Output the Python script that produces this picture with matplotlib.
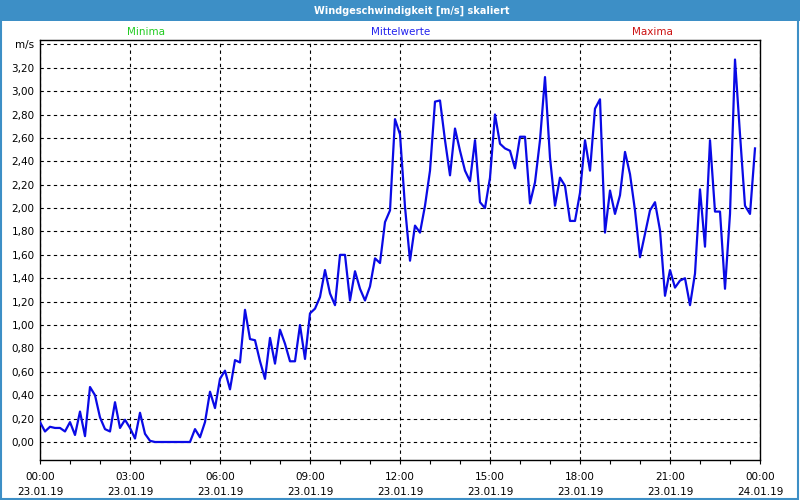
import matplotlib
matplotlib.use("Agg")
import matplotlib.pyplot as plt
import matplotlib.dates as mdates
from matplotlib.patches import Rectangle
from matplotlib.ticker import FuncFormatter
import pandas as pd

# ---- data ----
title = "Windgeschwindigkeit [m/s] skaliert"
legend_labels = ["Minima", "Mittelwerte", "Maxima"]
legend_colors = ["#22cc22", "#2222ee", "#cc1111"]
start_time = "2019-01-23 00:00"
interval = "10min"
wind_mean = [
    0.17, 0.09, 0.13, 0.12, 0.12, 0.09, 0.17, 0.06, 0.26, 0.05,
    0.47, 0.40, 0.21, 0.11, 0.09, 0.34, 0.12, 0.19, 0.12, 0.03,
    0.25, 0.07, 0.01, 0.00, 0.00, 0.00, 0.00, 0.00, 0.00, 0.00,
    0.00, 0.11, 0.04, 0.17, 0.43, 0.29, 0.54, 0.61, 0.45, 0.70,
    0.68, 1.13, 0.88, 0.87, 0.69, 0.54, 0.89, 0.67, 0.96, 0.84,
    0.69, 0.69, 1.00, 0.71, 1.10, 1.14, 1.24, 1.47, 1.27, 1.17,
    1.60, 1.60, 1.21, 1.46, 1.31, 1.21, 1.33, 1.57, 1.53, 1.88,
    1.98, 2.76, 2.63, 2.01, 1.55, 1.85, 1.79, 2.02, 2.32, 2.91,
    2.92, 2.58, 2.28, 2.68, 2.49, 2.32, 2.23, 2.58, 2.05, 2.00,
    2.26, 2.80, 2.55, 2.51, 2.49, 2.34, 2.61, 2.61, 2.04, 2.22,
    2.58, 3.12, 2.43, 2.02, 2.26, 2.19, 1.89, 1.89, 2.13, 2.58,
    2.32, 2.85, 2.93, 1.79, 2.15, 1.95, 2.11, 2.48, 2.29, 1.98,
    1.58, 1.78, 1.98, 2.05, 1.81, 1.25, 1.47, 1.32, 1.38, 1.40,
    1.17, 1.44, 2.16, 1.67, 2.58, 1.97, 1.97, 1.31, 1.95, 3.27,
    2.63, 2.02, 1.95, 2.51,
]
y_ticks = [0.0, 0.2, 0.4, 0.6, 0.8, 1.0, 1.2, 1.4, 1.6, 1.8, 2.0,
           2.2, 2.4, 2.6, 2.8, 3.0, 3.2, 3.4]
y_unit_label = "m/s"

times = pd.date_range(start_time, periods=len(wind_mean), freq=interval)

plt.rcParams['font.family'] = ['DejaVu Sans']
fig = plt.figure(figsize=(8, 5), dpi=100)
fig.patch.set_facecolor("white")

blue = "#3d8fc6"
# title bar
fig.patches.append(Rectangle((0, 1 - 21 / 500), 1, 21 / 500, transform=fig.transFigure,
                             facecolor=blue, edgecolor="none", zorder=0))
# frame
fig.patches.append(Rectangle((0.001, 0.002), 0.997, 0.996, transform=fig.transFigure,
                             facecolor="none", edgecolor=blue, linewidth=1.5, zorder=5))
fig.text(412 / 800, 1 - 10.5 / 500, title, color="white", fontsize=7,
         fontweight="bold", ha="center", va="center")

for lab, col, xp in zip(legend_labels, legend_colors, [146, 401, 652]):
    fig.text(xp / 800, 1 - 32 / 500, lab, color=col, fontsize=7.5,
             ha="center", va="center")

ax = fig.add_axes([40 / 800, 40 / 500, 720 / 800, 420 / 500])
ax.plot(times, wind_mean, color="#0a0ae6", linewidth=1.6, zorder=3)

ax.set_xlim(pd.Timestamp("2019-01-23 00:00"), pd.Timestamp("2019-01-24 00:00"))
ax.set_ylim(-0.154, 3.437)

ax.set_yticks(y_ticks)
def yfmt(v, pos):
    if abs(v - y_ticks[-1]) < 1e-6:
        return y_unit_label
    return f"{v:.2f}".replace(".", ",")
ax.yaxis.set_major_formatter(FuncFormatter(yfmt))

ax.xaxis.set_major_locator(mdates.HourLocator(byhour=range(0, 24, 3)))
ax.xaxis.set_minor_locator(mdates.HourLocator(byhour=range(0, 24, 1)))
ax.xaxis.set_major_formatter(mdates.DateFormatter("%H:%M\n%d.%m.%y"))

ax.grid(True, which="major", axis="both", color="black", linestyle=(0, (3, 3)),
        linewidth=0.8)
ax.tick_params(axis="y", length=0, pad=4, labelsize=7.5, colors="black")
ax.tick_params(axis="x", which="both", length=3, width=0.8, direction="out",
               labelsize=7.5, pad=6)
for lab in ax.get_xticklabels():
    lab.set_linespacing(1.6)
for s in ax.spines.values():
    s.set_color("black")
    s.set_linewidth(1.0)

fig.savefig("out.png", dpi=100)
